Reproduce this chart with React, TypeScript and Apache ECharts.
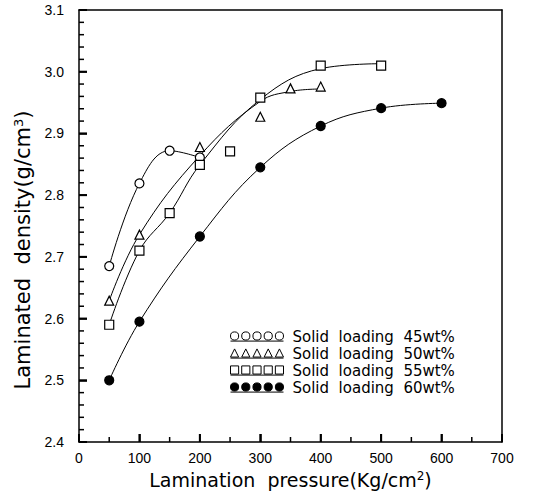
import React, { useEffect, useRef } from "react";
import * as echarts from "echarts";

const xTicks = [0, 100, 200, 300, 400, 500, 600, 700];
const yTicks = [2.4, 2.5, 2.6, 2.7, 2.8, 2.9, 3.0, 3.1];

const names = [
  "Solid  loading  45wt%",
  "Solid  loading  50wt%",
  "Solid  loading  55wt%",
  "Solid  loading  60wt%",
];

const x45 = [50, 100, 150, 200];
const y45 = [2.685, 2.819, 2.872, 2.861];
const x50 = [50, 100, 200, 300, 350, 400];
const y50 = [2.629, 2.736, 2.878, 2.927, 2.973, 2.976];
const x55 = [50, 100, 150, 200, 250, 300, 400, 500];
const y55 = [2.59, 2.71, 2.771, 2.849, 2.871, 2.958, 3.01, 3.01];
const x60 = [50, 100, 200, 300, 400, 500, 600];
const y60 = [2.5, 2.595, 2.733, 2.845, 2.912, 2.941, 2.949];

// fitted curves
const fx45 = [50, 100, 150, 200];
const fy45 = [2.685, 2.819, 2.872, 2.861];
const fx50 = [50, 100, 200, 300, 350, 400];
const fy50 = [2.629, 2.736, 2.864, 2.952, 2.968, 2.972];
const fx55 = [50, 100, 150, 200, 300, 400, 500];
const fy55 = [2.59, 2.71, 2.771, 2.849, 2.955, 3.005, 3.013];
const fx60 = [50, 100, 200, 300, 400, 500, 600];
const fy60 = [2.5, 2.595, 2.733, 2.845, 2.912, 2.941, 2.949];

const zip = (xs: number[], ys: number[]) => xs.map((x, i) => [x, ys[i]]);

const FONT = "Liberation Sans";
const WIDE = "DejaVu Sans";

const circleIcon =
  "path://M1 5 a4 4 0 1 0 8 0 a4 4 0 1 0 -8 0 Z M12 5 a4 4 0 1 0 8 0 a4 4 0 1 0 -8 0 Z M23 5 a4 4 0 1 0 8 0 a4 4 0 1 0 -8 0 Z M34 5 a4 4 0 1 0 8 0 a4 4 0 1 0 -8 0 Z M45 5 a4 4 0 1 0 8 0 a4 4 0 1 0 -8 0 Z M1 10 L53 10";
const triIcon =
  "path://M1 9 L5 1 L9 9 Z M12 9 L16 1 L20 9 Z M23 9 L27 1 L31 9 Z M34 9 L38 1 L42 9 Z M45 9 L49 1 L53 9 Z M1 10 L53 10";
const rectIcon =
  "path://M1 1 h8 v8 h-8 Z M12 1 h8 v8 h-8 Z M23 1 h8 v8 h-8 Z M34 1 h8 v8 h-8 Z M45 1 h8 v8 h-8 Z M1 10 L53 10";

// tick positions (major + minor) for the inward tick marks
const buildTicks = (ticks: number[], sub: number) => {
  const out: number[][] = [];
  for (let i = 0; i < ticks.length; i++) {
    out.push([ticks[i], 1]);
    if (i < ticks.length - 1) {
      const step = (ticks[i + 1] - ticks[i]) / sub;
      for (let k = 1; k < sub; k++) out.push([+(ticks[i] + step * k).toFixed(4), 0]);
    }
  }
  return out;
};

export default function App() {
  const ref = useRef<HTMLDivElement>(null);
  useEffect(() => {
    const chart = echarts.init(ref.current!, null, { renderer: "svg" });
    const xMin = xTicks[0];
    const yMin = yTicks[0];
    const scatter = (name: string, data: number[][], symbol: string, size: number, filled: boolean) => ({
      name,
      type: "scatter",
      data,
      symbol,
      symbolSize: size,
      itemStyle: {
        color: filled ? "#000" : "#fff",
        borderColor: "#000",
        borderWidth: 1.2,
        opacity: 1,
      },
      z: 5,
    });
    const curve = (data: number[][]) => ({
      type: "line",
      data,
      smooth: 0.4,
      showSymbol: false,
      symbol: "none",
      lineStyle: { color: "#000", width: 1 },
      silent: true,
      z: 3,
    });
    const tickSeries = (isX: boolean) => ({
      type: "custom",
      silent: true,
      clip: false,
      z: 10,
      data: isX ? buildTicks(xTicks, 2) : buildTicks(yTicks, 5),
      renderItem: (_p: any, api: any) => {
        const v = api.value(0);
        const major = api.value(1) === 1;
        const len = major ? 8 : 5;
        const w = major ? 2 : 1.5;
        const pt = isX ? api.coord([v, yMin]) : api.coord([xMin, v]);
        return {
          type: "rect",
          shape: isX
            ? { x: pt[0] - w / 2, y: pt[1] - len, width: w, height: len }
            : { x: pt[0], y: pt[1] - w / 2, width: len, height: w },
          style: { fill: "#000" },
        };
      },
    });
    const lineStyle = { color: "#000", width: 1.5 };
    const frameAxis = (min: number, max: number, position: string) => ({
      type: "value",
      position,
      min,
      max,
      axisLine: { show: true, onZero: false, lineStyle },
      axisTick: { show: false },
      axisLabel: { show: false },
      splitLine: { show: false },
    });
    chart.setOption({
      animation: false,
      backgroundColor: "#fff",
      textStyle: { fontFamily: FONT, color: "#000" },
      grid: {
        left: 79,
        right: 32,
        top: 10,
        bottom: 50,
        show: false,
        containLabel: false,
        outerBoundsMode: "none",
      },
      legend: {
        orient: "vertical",
        left: 230,
        top: 329,
        itemWidth: 53,
        itemHeight: 10,
        itemGap: 2,
        padding: 0,
        textStyle: { fontFamily: WIDE, fontSize: 15, lineHeight: 14, color: "#000", padding: [0, 0, 0, 4] },
        data: [
          { name: names[0], icon: circleIcon, itemStyle: { color: "#fff", borderColor: "#000", borderWidth: 1 } },
          { name: names[1], icon: triIcon, itemStyle: { color: "#fff", borderColor: "#000", borderWidth: 1 } },
          { name: names[2], icon: rectIcon, itemStyle: { color: "#fff", borderColor: "#000", borderWidth: 1 } },
          { name: names[3], icon: circleIcon, itemStyle: { color: "#000", borderColor: "#000", borderWidth: 1 } },
        ],
      },
      xAxis: [
        {
          type: "value",
          position: "bottom",
          min: xTicks[0],
          max: xTicks[xTicks.length - 1],
          interval: 100,
          name: "Lamination  pressure(Kg/cm{sup|2})",
          nameLocation: "middle",
          nameGap: 19,
          nameTextStyle: {
            fontFamily: WIDE,
            fontSize: 19,
            color: "#000",
            rich: { sup: { fontSize: 12, verticalAlign: "top", padding: [0, 0, 9, 0], fontFamily: WIDE } },
          },
          axisLine: { show: true, onZero: false, lineStyle },
          axisTick: { show: true, inside: true, length: 8, lineStyle },
          splitLine: { show: false },
          axisLabel: { show: true, fontFamily: FONT, fontSize: 14, color: "#000", margin: 9 },
        },
        frameAxis(xTicks[0], xTicks[xTicks.length - 1], "top"),
      ],
      yAxis: [
        {
          type: "value",
          position: "left",
          min: yTicks[0],
          max: yTicks[yTicks.length - 1],
          interval: 0.1,
          name: "Laminated  density(g/cm{sup|3})",
          nameLocation: "middle",
          nameGap: 38,
          nameRotate: 90,
          nameTextStyle: {
            fontFamily: WIDE,
            fontSize: 21,
            color: "#000",
            padding: [0, 48, 0, 0],
            rich: { sup: { fontSize: 13, verticalAlign: "top", padding: [0, 0, 10, 0], fontFamily: WIDE } },
          },
          axisLine: { show: true, onZero: false, lineStyle },
          axisTick: { show: true, inside: true, length: 8, lineStyle },
          splitLine: { show: false },
          axisLabel: {
            show: true,
            fontFamily: FONT,
            fontSize: 14,
            color: "#000",
            margin: 15,
            formatter: (v: number) => v.toFixed(1),
          },
        },
        frameAxis(yTicks[0], yTicks[yTicks.length - 1], "right"),
      ],
      series: [
        tickSeries(true),
        tickSeries(false),
        curve(zip(fx45, fy45)),
        curve(zip(fx50, fy50)),
        curve(zip(fx55, fy55)),
        curve(zip(fx60, fy60)),
        scatter(names[0], zip(x45, y45), "circle", 9, false),
        scatter(names[1], zip(x50, y50), "triangle", 9, false),
        scatter(names[2], zip(x55, y55), "rect", 9, false),
        scatter(names[3], zip(x60, y60), "circle", 9, true),
      ],
    });
    return () => chart.dispose();
  }, []);
  return <div ref={ref} style={{ width: 534, height: 492, position: "absolute", left: 0, top: 0 }} />;
}
